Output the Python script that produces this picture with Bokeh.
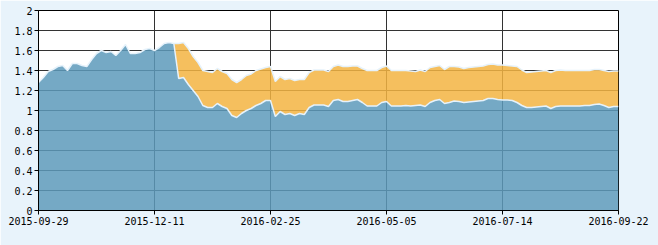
from bokeh.plotting import figure
from bokeh.models import FixedTicker, PrintfTickFormatter, ColumnDataSource
from bokeh.embed import file_html
from bokeh.resources import INLINE

# x labels (evenly spaced trading-day positions)
tick_labels = ["2015-09-29", "2015-12-11", "2016-02-25", "2016-05-05", "2016-07-14", "2016-09-22"]
y_ticks = [0, 0.2, 0.4, 0.6, 0.8, 1.0, 1.2, 1.4, 1.6, 1.8, 2.0]

# unit value (blue), sampled every other trading day
unit_nav = [
    1.28, 1.33, 1.39, 1.41, 1.44, 1.45, 1.40, 1.47, 1.47, 1.45,
    1.44, 1.51, 1.57, 1.60, 1.58, 1.59, 1.55, 1.60, 1.66, 1.57,
    1.57, 1.58, 1.61, 1.62, 1.60, 1.63, 1.67, 1.68, 1.67, 1.32,
    1.33, 1.26, 1.20, 1.14, 1.05, 1.03, 1.03, 1.07, 1.04, 1.02,
    0.95, 0.93, 0.97, 1.00, 1.02, 1.05, 1.07, 1.10, 1.10, 0.94,
    0.99, 0.96, 0.97, 0.95, 0.97, 0.96, 1.03, 1.055, 1.055, 1.055,
    1.04, 1.10, 1.11, 1.09, 1.09, 1.10, 1.11, 1.08, 1.045, 1.045,
    1.045, 1.08, 1.09, 1.045, 1.045, 1.045, 1.05, 1.045, 1.05, 1.055,
    1.04, 1.08, 1.10, 1.11, 1.07, 1.08, 1.095, 1.09, 1.08, 1.085,
    1.09, 1.095, 1.10, 1.12, 1.12, 1.11, 1.105, 1.105, 1.10, 1.08,
    1.05, 1.03, 1.03, 1.035, 1.04, 1.045, 1.02, 1.04, 1.045, 1.045,
    1.045, 1.045, 1.045, 1.05, 1.05, 1.06, 1.065, 1.05, 1.03, 1.04,
    1.04,
]

# accumulated value (orange), starting at sample 28
acc_start = 28
acc_nav = [
    1.67, 1.67, 1.68, 1.62, 1.54, 1.48, 1.40, 1.39, 1.38, 1.42,
    1.39, 1.37, 1.31, 1.28, 1.31, 1.35, 1.365, 1.40, 1.415, 1.43,
    1.44, 1.29, 1.34, 1.31, 1.32, 1.30, 1.31, 1.31, 1.38, 1.405,
    1.405, 1.405, 1.39, 1.44, 1.455, 1.44, 1.44, 1.445, 1.445, 1.42,
    1.40, 1.40, 1.40, 1.43, 1.445, 1.40, 1.40, 1.40, 1.40, 1.395,
    1.39, 1.405, 1.39, 1.43, 1.44, 1.45, 1.41, 1.44, 1.44, 1.435,
    1.42, 1.43, 1.435, 1.44, 1.445, 1.46, 1.465, 1.455, 1.455, 1.45,
    1.445, 1.44, 1.405, 1.38, 1.385, 1.39, 1.395, 1.40, 1.38, 1.40,
    1.405, 1.40, 1.40, 1.40, 1.40, 1.40, 1.40, 1.41, 1.41, 1.40,
    1.39, 1.395, 1.395,
]

n = len(unit_nav)
x = list(range(n))
step = (n - 1) // (len(tick_labels) - 1)
tick_pos = [i * step for i in range(len(tick_labels))]

blue_src = ColumnDataSource(dict(x=x, y=unit_nav))
acc_x = list(range(acc_start, acc_start + len(acc_nav)))
orange_src = ColumnDataSource(dict(x=acc_x, lo=unit_nav[acc_start:acc_start + len(acc_nav)], hi=acc_nav))

p = figure(width=658, height=245, output_backend="svg", toolbar_location=None,
           x_range=(0, n - 1), y_range=(0, 2))
p.min_border_left = 38
p.min_border_right = 40
p.min_border_top = 10
p.min_border_bottom = 35
p.background_fill_color = "white"
p.border_fill_color = "#e8f3fb"
p.outline_line_color = "black"
p.outline_line_width = 1

p.varea(x="x", y1="lo", y2="hi", source=orange_src, fill_color=(243, 180, 66), fill_alpha=0.85)
p.varea(x="x", y1=0, y2="y", source=blue_src, fill_color=(93, 154, 187), fill_alpha=0.85)
p.line(x="x", y="hi", source=orange_src, line_color="#e6f2fb", line_width=1.5)
p.line(x="x", y="y", source=blue_src, line_color="#e6f2fb", line_width=1.5)

p.xaxis.ticker = FixedTicker(ticks=tick_pos)
p.xaxis.major_label_overrides = {pos: lab for pos, lab in zip(tick_pos, tick_labels)}
p.yaxis.ticker = FixedTicker(ticks=y_ticks)
p.yaxis.formatter = PrintfTickFormatter(format="%g")

for ax in (p.xaxis, p.yaxis):
    ax.axis_line_color = "black"
    ax.axis_line_width = 1
    ax.major_tick_line_color = "black"
    ax.major_tick_in = 0
    ax.major_tick_out = 4
    ax.minor_tick_line_color = None
    ax.major_label_text_font = "DejaVu Sans Mono"
    ax.major_label_text_font_size = "10px"
    ax.major_label_text_color = "black"
    ax.major_label_standoff = 2

p.xgrid.ticker = FixedTicker(ticks=tick_pos)
p.ygrid.ticker = FixedTicker(ticks=y_ticks)
for g in (p.xgrid, p.ygrid):
    g.grid_line_color = "#333333"
    g.grid_line_width = 1
    g.grid_line_alpha = 1.0

open("out.html", "w").write(file_html(p, INLINE))
